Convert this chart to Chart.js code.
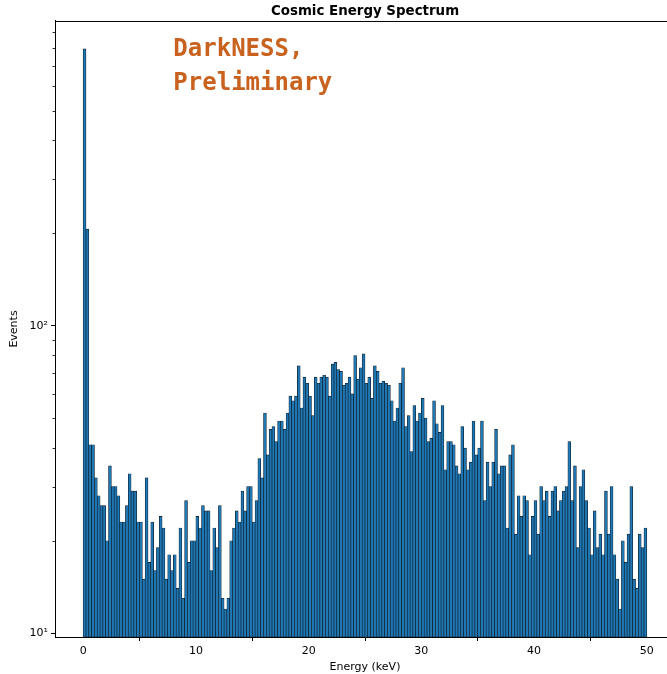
<!DOCTYPE html>
<html>
<head>
<meta charset="utf-8">
<title>Cosmic Energy Spectrum</title>
<script src="https://cdn.jsdelivr.net/npm/chart.js@4.4.1/dist/chart.umd.min.js"></script>
<style>
    html, body { margin: 0; padding: 0; background: #fff; overflow: hidden; }
    #wrap { width: 667px; height: 674px; overflow: hidden; }
</style>
</head>
<body>
<div id="wrap"><canvas id="spectrum" width="680" height="674"></canvas></div>
<script>
// Histogram: 200 bins of 0.25 keV from 0 to 50 keV
const binWidth = 0.25;
const energyStart = 0;

// Counts per bin (log scale)
const eventCounts = [
    794, 206, 41, 41, 32, 28, 26, 26, 20, 35,
    30, 30, 28, 23, 23, 26, 33, 29, 29, 23,
    23, 15, 32, 17, 23, 16, 19, 24, 22, 15,
    18, 16, 18, 14, 22, 13, 27, 17, 20, 20,
    24, 22, 26, 25, 25, 16, 22, 19, 26, 13,
    12, 13, 20, 22, 25, 23, 29, 25, 30, 30,
    23, 27, 37, 32, 52, 38, 46, 47, 42, 49,
    49, 46, 52, 59, 57, 59, 74, 54, 68, 65,
    59, 51, 68, 65, 68, 69, 68, 59, 75, 76,
    72, 71, 64, 65, 68, 60, 80, 67, 73, 81,
    65, 68, 58, 74, 71, 65, 66, 65, 64, 57,
    49, 54, 65, 73, 47, 51, 39, 55, 49, 52,
    58, 50, 42, 43, 57, 48, 45, 55, 34, 42,
    42, 41, 35, 33, 47, 40, 34, 36, 49, 38,
    40, 49, 27, 36, 30, 36, 46, 33, 35, 35,
    22, 38, 41, 21, 28, 24, 28, 27, 18, 24,
    27, 21, 30, 27, 29, 24, 29, 30, 25, 27,
    29, 30, 42, 27, 35, 19, 30, 34, 27, 22,
    18, 25, 19, 21, 18, 29, 21, 30, 18, 15,
    12, 20, 17, 21, 30, 15, 14, 21, 19, 22
];

// Axis ticks
const xTicks = [0, 10, 20, 30, 40, 50];
const yMajorTicks = [10, 100];
const yMajorLabels = ["10\u00b9", "10\u00b2"];
const yMinorTicks = [20, 30, 40, 50, 60, 70, 80, 90, 200, 300, 400, 500, 600, 700, 800, 900];

// Watermark text
const labelLines = ["DarkNESS,", "Preliminary"];
const labelEnergy = 8;

const energyCenters = eventCounts.map((_, i) => energyStart + (i + 0.5) * binWidth);

const tickFont = { family: "DejaVu Sans", size: 11 };

// draws the top/right spines, minor log ticks and the watermark
const framePlugin = {
    id: "frameAndLabel",
    afterDraw(chart) {
        const { ctx, chartArea: a, scales } = chart;
        ctx.save();
        ctx.strokeStyle = "#000";
        ctx.lineWidth = 1;
        ctx.beginPath();
        ctx.moveTo(a.left, a.top + 0.5);
        ctx.lineTo(a.right, a.top + 0.5);
        ctx.moveTo(a.right - 0.5, a.top);
        ctx.lineTo(a.right - 0.5, a.bottom);
        ctx.stroke();

        ctx.beginPath();
        yMinorTicks.forEach(v => {
            const y = Math.round(scales.y.getPixelForValue(v)) + 0.5;
            ctx.moveTo(a.left - 2.5, y);
            ctx.lineTo(a.left, y);
        });
        ctx.lineWidth = 0.8;
        ctx.stroke();

        ctx.font = "bold 24px 'DejaVu Sans Mono'";
        ctx.fillStyle = "#c8621e";
        ctx.textBaseline = "alphabetic";
        const x = scales.x.getPixelForValue(labelEnergy);
        labelLines.forEach((t, i) => ctx.fillText(t, x, a.top + 35 + i * 34));
        ctx.restore();
    }
};

const ctx = document.getElementById("spectrum").getContext("2d");
new Chart(ctx, {
    type: "bar",
    data: {
        datasets: [{
            label: "Events",
            data: energyCenters.map((e, i) => ({ x: e, y: eventCounts[i] })),
            backgroundColor: "#1f77b4",
            borderColor: "#0d1a26",
            borderWidth: 0.65,
            borderSkipped: false,
            barPercentage: 1,
            categoryPercentage: 1,
            inflateAmount: 0.35
        }]
    },
    options: {
        responsive: false,
        animation: false,
        layout: { padding: { left: 0, right: 5, top: 0, bottom: 0 } },
        plugins: {
            legend: { display: false },
            tooltip: { enabled: false },
            title: {
                display: true,
                fullSize: false,
                text: "Cosmic Energy Spectrum",
                color: "#000",
                font: { family: "DejaVu Sans", size: 13.4, weight: "bold" },
                padding: { top: 3, bottom: 1.9 }
            }
        },
        scales: {
            x: {
                type: "linear",
                min: -2.5,
                max: 52.5,
                offset: false,
                afterBuildTicks: s => { s.ticks = xTicks.map(v => ({ value: v })); },
                afterFit: s => { s.height = 37; },
                ticks: { font: tickFont, color: "#000", padding: 3.5, maxRotation: 0, autoSkip: false },
                grid: { display: true, drawOnChartArea: false, drawTicks: true, tickLength: 4, color: "#000" },
                border: { display: true, color: "#000", width: 1 },
                title: {
                    display: true, text: "Energy (keV)", color: "#000",
                    font: tickFont, padding: { top: 0, bottom: 0.5 }
                }
            },
            y: {
                type: "logarithmic",
                min: 9.73,
                max: 978,
                afterBuildTicks: s => {
                    s.ticks = yMajorTicks.map(v => ({ value: v, major: true }));
                },
                afterFit: s => { s.width = 55; },
                ticks: {
                    font: tickFont, color: "#000", padding: 3, autoSkip: false,
                    callback: v => {
                        const k = yMajorTicks.indexOf(v);
                        return k >= 0 ? yMajorLabels[k] : "";
                    }
                },
                grid: { display: true, drawOnChartArea: false, drawTicks: true, tickLength: 4, color: "#000" },
                border: { display: true, color: "#000", width: 1 },
                title: {
                    display: true, text: "Events", color: "#000",
                    font: tickFont, padding: { top: 8, bottom: 0 }
                }
            }
        }
    },
    plugins: [framePlugin]
});
</script>
</body>
</html>
